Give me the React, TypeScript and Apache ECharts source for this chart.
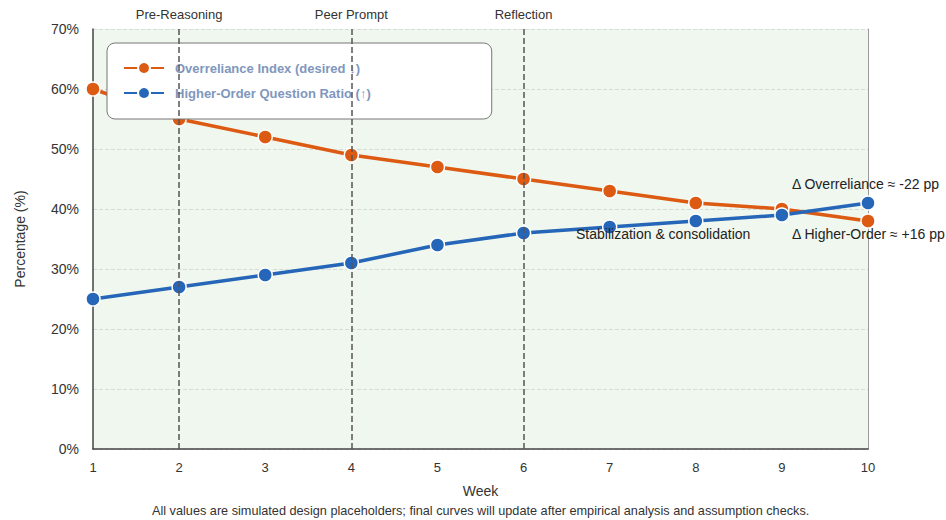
import React, { useEffect, useRef } from "react";
import * as echarts from "echarts";

const weeks = [1, 2, 3, 4, 5, 6, 7, 8, 9, 10];
const overreliance = [60, 55, 52, 49, 47, 45, 43, 41, 40, 38];
const higherOrder = [25, 27, 29, 31, 34, 36, 37, 38, 39, 41];
const phaseWeeks = [2, 4, 6];
const phaseLabels = ["Pre-Reasoning", "Peer Prompt", "Reflection"];
const seriesNames = ["Overreliance Index (desired \u2193)", "Higher-Order Question Ratio (\u2191)"];

const FONT = "'Liberation Sans', Arial, sans-serif";

export default function App() {
  const ref = useRef<HTMLDivElement>(null);
  useEffect(() => {
    if (!ref.current) return;
    const chart = echarts.init(ref.current, undefined, { renderer: "svg" });
    const orange = "#dc5a12";
    const blue = "#2566b8";
    chart.setOption({
      animation: false,
      textStyle: { fontFamily: FONT },
      grid: {
        left: 93,
        right: 78,
        top: 29,
        bottom: 71,
        show: true,
        backgroundColor: "#f0f7ee",
        borderWidth: 0,
      },
      legend: {
        orient: "vertical",
        left: 107,
        top: 43,
        backgroundColor: "#ffffff",
        borderColor: "#777",
        borderWidth: 1,
        borderRadius: 8,
        padding: [18, 121, 19, 16],
        itemGap: 11,
        itemWidth: 40,
        itemHeight: 15,
        textStyle: {
          color: "#7f97bd",
          fontWeight: "bold",
          fontSize: 13,
          fontFamily: FONT,
          padding: [0, 0, 0, 6],
        },
        data: seriesNames,
      },
      xAxis: {
        type: "value",
        min: 1,
        max: 10,
        interval: 1,
        name: "Week",
        nameLocation: "middle",
        nameGap: 35,
        nameTextStyle: { fontSize: 14, color: "#333" },
        axisLine: { lineStyle: { color: "#444", width: 1.5 } },
        axisTick: { show: false },
        axisLabel: { color: "#333", fontSize: 13, margin: 12 },
        splitLine: { show: false },
      },
      yAxis: [
        {
          type: "value",
          min: 0,
          max: 70,
          interval: 10,
          name: "Percentage (%)",
          nameLocation: "middle",
          nameGap: 66,
          nameTextStyle: { fontSize: 14, color: "#333" },
          axisLine: { show: true, lineStyle: { color: "#444", width: 1.5 } },
          axisTick: { show: false },
          axisLabel: { color: "#333", fontSize: 14, margin: 14, formatter: "{value}%" },
          splitLine: { lineStyle: { type: "dashed", color: "#d6dcd6" } },
        },
        {
          type: "value",
          min: 0,
          max: 70,
          interval: 10,
          position: "right",
          axisLine: { show: true, lineStyle: { color: "#999", width: 1 } },
          axisTick: { show: false },
          axisLabel: { show: false },
          splitLine: { show: false },
        },
      ],
      series: [
        {
          name: seriesNames[0],
          type: "line",
          data: weeks.map((w, i) => [w, overreliance[i]]),
          color: orange,
          lineStyle: { width: 3.5, color: orange },
          symbol: "circle",
          symbolSize: 14,
          itemStyle: { color: orange, borderColor: "#fff", borderWidth: 1.5 },
          z: 3,
          markLine: {
            silent: true,
            symbol: "none",
            lineStyle: { type: "dashed", color: "#555", width: 1.5 },
            label: {
              position: "end",
              formatter: (p: any) => phaseLabels[phaseWeeks.indexOf(p.value)],
              color: "#333",
              fontSize: 13,
              distance: 8,
            },
            data: phaseWeeks.map((w) => ({ xAxis: w })),
          },
        },
        {
          name: seriesNames[1],
          type: "line",
          data: weeks.map((w, i) => [w, higherOrder[i]]),
          color: blue,
          lineStyle: { width: 3.5, color: blue },
          symbol: "circle",
          symbolSize: 14,
          itemStyle: { color: blue, borderColor: "#fff", borderWidth: 1.5 },
          z: 4,
        },
      ],
      graphic: [
        {
          type: "text",
          left: 576,
          top: 227,
          style: { text: "Stabilization & consolidation", fill: "#222", font: `14px ${FONT}` },
          z: 10,
        },
        {
          type: "text",
          left: 792,
          top: 177,
          style: { text: "\u0394 Overreliance \u2248 -22 pp", fill: "#222", font: `14px ${FONT}` },
          z: 10,
        },
        {
          type: "text",
          left: 792,
          top: 227,
          style: { text: "\u0394 Higher-Order \u2248 +16 pp", fill: "#222", font: `14px ${FONT}` },
          z: 10,
        },
        {
          type: "text",
          left: 152,
          top: 504,
          style: {
            text: "All values are simulated design placeholders; final curves will update after empirical analysis and assumption checks.",
            fill: "#333",
            font: `12.7px ${FONT}`,
          },
        },
      ],
    });
    return () => chart.dispose();
  }, []);
  return <div ref={ref} style={{ width: 946, height: 520, position: "absolute", left: 0, top: 0 }} />;
}
